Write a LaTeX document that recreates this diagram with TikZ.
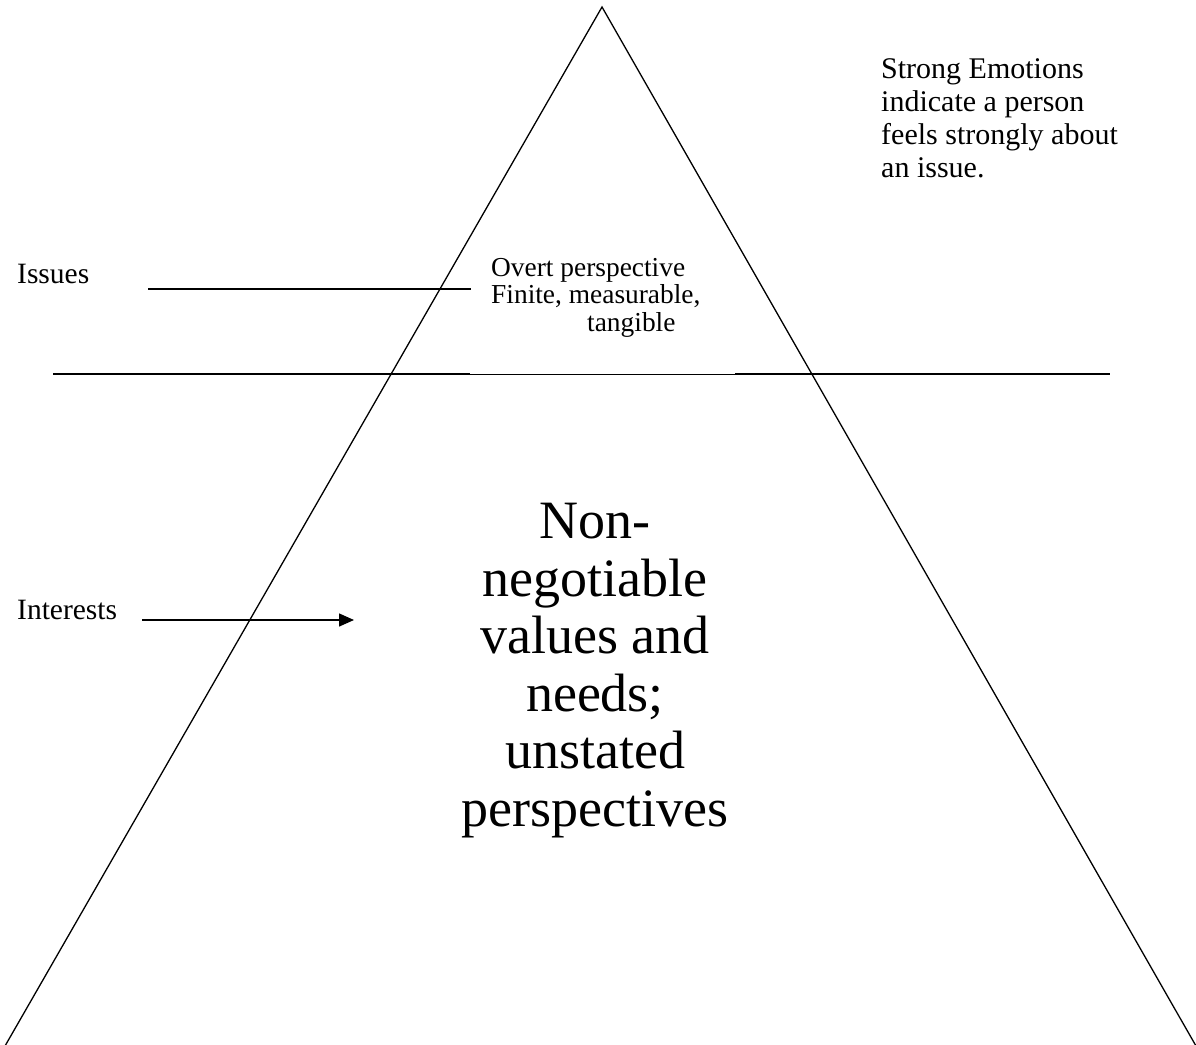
\documentclass[tikz,border=0pt]{standalone}
\usepackage{fontspec}
\setmainfont{Liberation Serif}
\usetikzlibrary{arrows.meta}

\begin{document}
\begin{tikzpicture}[
    x=1pt, y=-1pt,
    edge/.style={black, line width=1.3pt},
    rule/.style={black, line width=1.4pt},
    thinrule/.style={black, line width=0.9pt},
    side/.style={font=\fontsize{29.5}{33}\selectfont, inner sep=0pt, anchor=base west},
    note/.style={font=\fontsize{27.4}{27.5}\selectfont, inner sep=0pt, align=left},
    big/.style={font=\fontsize{54}{57.5}\selectfont, inner sep=0pt, align=center}
]
\useasboundingbox (0,0) rectangle (1196,1044);

% ---------- the triangle ----------
\coordinate (apex)  at (602,7);
\coordinate (bleft) at (5,1046);
\coordinate (bright) at (1196,1046);
\draw[edge] (bleft) -- (apex) -- (bright);

% ---------- issues level ----------
\coordinate (lvlL) at (53,374);
\coordinate (lvlA) at (470,374);
\coordinate (lvlB) at (735,374);
\coordinate (lvlR) at (1110,374);
\draw[rule] (lvlL) -- (lvlA);
\draw[thinrule] (lvlA) -- (lvlB);
\draw[rule] (lvlB) -- (lvlR);

\node[side] (issues) at (17,283) {Issues};
\coordinate (issS) at (148,289);
\coordinate (issE) at (471,289);
\draw[rule] (issS) -- (issE);

\node[side] (interests) at (17,619) {Interests};
\coordinate (intS) at (142,620);
\coordinate (intE) at (354,620);
\draw[rule, -{Triangle[length=15pt, width=13pt]}] (intS) -- (intE);

% ---------- texts ----------
\node[note, anchor=north west] (overt) at (491,258)
  {Overt perspective\\Finite, measurable,\\\hspace*{96pt}tangible};

\node[side, align=left, anchor=north west,
      font=\fontsize{30}{33}\selectfont] (emotions) at (881,58)
  {Strong Emotions\\indicate a person\\feels strongly about\\an issue.};

\node[big, anchor=north] (core) at (595,503)
  {Non-\\negotiable\\values and\\needs;\\unstated\\perspectives};

\end{tikzpicture}
\end{document}
